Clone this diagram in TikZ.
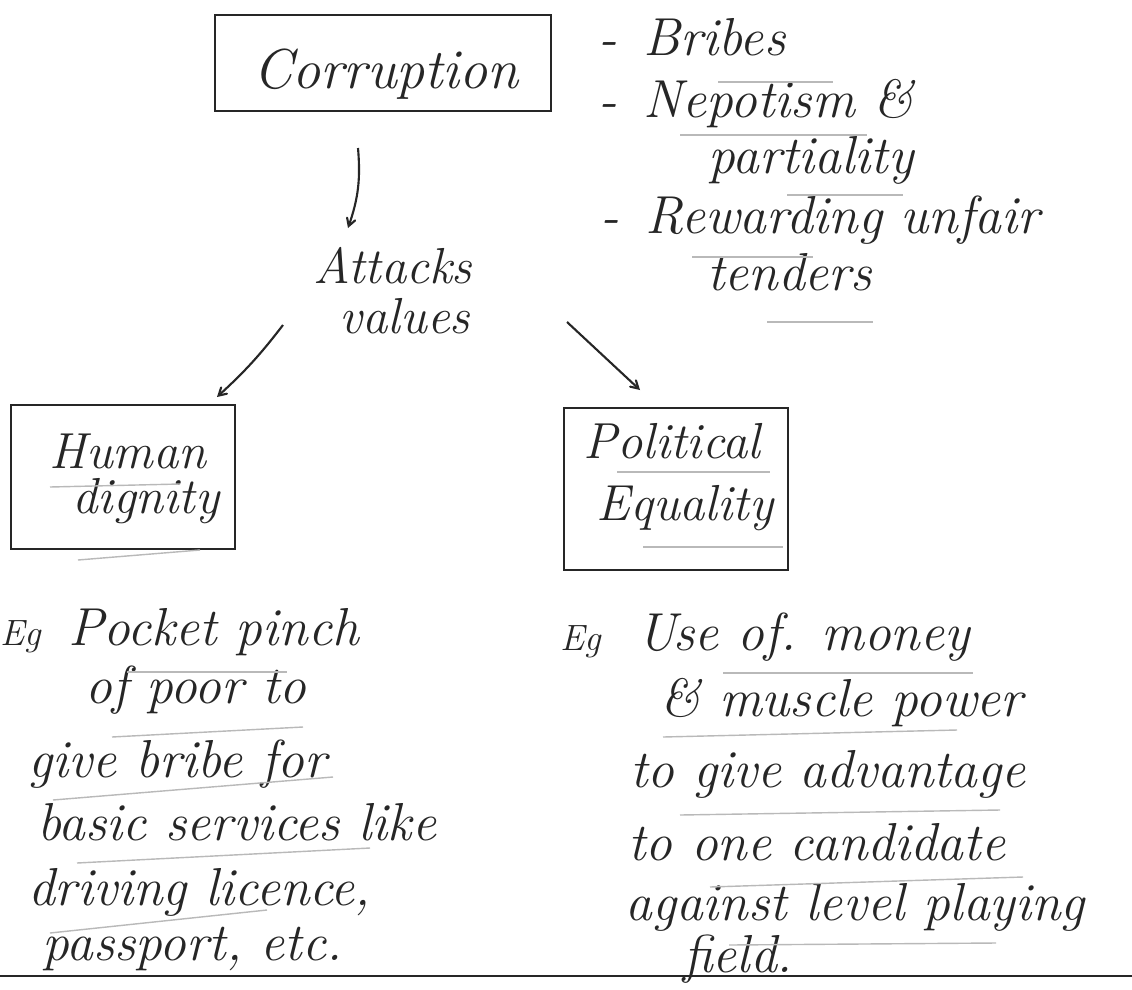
\documentclass[tikz,border=0pt]{standalone}
\usepackage{tikz}
\usetikzlibrary{calc}
\usetikzlibrary{arrows}
\usetikzlibrary{positioning}
\tikzset{script/.style={font=\fontsize{38}{46}\selectfont\itshape,inner sep=0pt,anchor=base west,text=black!85}}
\tikzset{boxtext/.style={script,anchor=base,font=\fontsize{36}{40}\selectfont\itshape}}
\tikzset{valuebox/.style={rectangle,draw=black!85,line width=1.5pt,inner sep=0pt}}
\tikzset{penarrow/.style={draw=black!85,line width=1.5pt,->,>=angle 60}}
\tikzset{pencil/.style={gray!55,line width=1pt}}

\begin{document}
\begin{tikzpicture}[x=0.025cm,y=-0.025cm]
\fill[white] (0,0) rectangle (1132,989);
\useasboundingbox (0,0) rectangle (1132,989);
% boxes
\node[valuebox,minimum width=8.4cm,minimum height=2.4cm] (corr) at (383,63) {};
\node[valuebox,minimum width=5.6cm,minimum height=3.6cm] (hum) at (123,477) {};
\node[valuebox,minimum width=5.6cm,minimum height=4.05cm] (pol) at (676,489) {};
\node[boxtext,font=\fontsize{40}{46}\selectfont\itshape] (corrt) at (386,88) {Corruption};
\node[boxtext] (humt1) at (128,468) {Human};
\node[boxtext] (humt2) at (146,513) {dignity};
\node[boxtext] (polt1) at (672,458) {Political};
\node[boxtext] (polt2) at (685,520) {Equality};
\node[boxtext] (att1) at (393,283) {Attacks};
\node[boxtext] (att2) at (405,333) {values};
% list of forms
\foreach \t/\x/\y [count=\i] in {{-\hspace{0.5em}Bribes}/598/55,{-\hspace{0.5em}Nepotism \&}/598/117,{partiality}/708/173,{-\hspace{0.5em}Rewarding unfair}/600/233,{tenders}/707/290} {
	\node[script] (form\i) at (\x,\y) {\t};
}
% examples
\node[script,font=\fontsize{26}{30}\selectfont\itshape] (egl) at (0,645) {Eg};
\node[script,font=\fontsize{26}{30}\selectfont\itshape] (egr) at (560,650) {Eg};
\foreach \t/\x/\y [count=\i] in {{Pocket pinch}/68/645,{of poor to}/85/703,{give bribe for}/28/777,{basic services like}/37/840,{driving licence,}/28/905,{passport, etc.}/42/960} {
	\node[script] (poc\i) at (\x,\y) {\t};
}
\foreach \t/\x/\y [count=\i] in {{Use of. money}/637/650,{\& muscle power}/660/716,{to give advantage}/630/787,{to one candidate}/628/860,{against level playing}/625/920,{field.}/683/972} {
	\node[script] (use\i) at (\x,\y) {\t};
}
% arrows
\draw[penarrow] ($(corr)+(-25,85)$) to[bend left=12] ($(att1.base)+(-45,-55)$);
\draw[penarrow] ($(att1.base)+(-110,42)$) to[bend left=5] ($(hum)+(94,-80)$);
\draw[penarrow] ($(att1.base)+(174,39)$) -- ($(pol)+(-36,-99)$);
% pencil underlines
\foreach \a/\b/\c/\d in {718/82/833/82,680/135/867/135,787/195/903/195,692/257/813/257,767/322/873/322,
	50/487/180/484,78/560/200/550,617/472/770/472,643/547/783/547,
	127/672/287/672,112/737/303/727,53/800/333/777,77/863/370/848,50/933/267/910,
	723/673/973/673,663/737/957/730,680/815/1000/810,710/887/1023/877,729/945/996/943} {
	\draw[pencil] (\a,\b) -- (\c,\d);
}
\draw[line width=1.5pt,black!85] (0,976) -- (1132,976);
\end{tikzpicture}
\end{document}
